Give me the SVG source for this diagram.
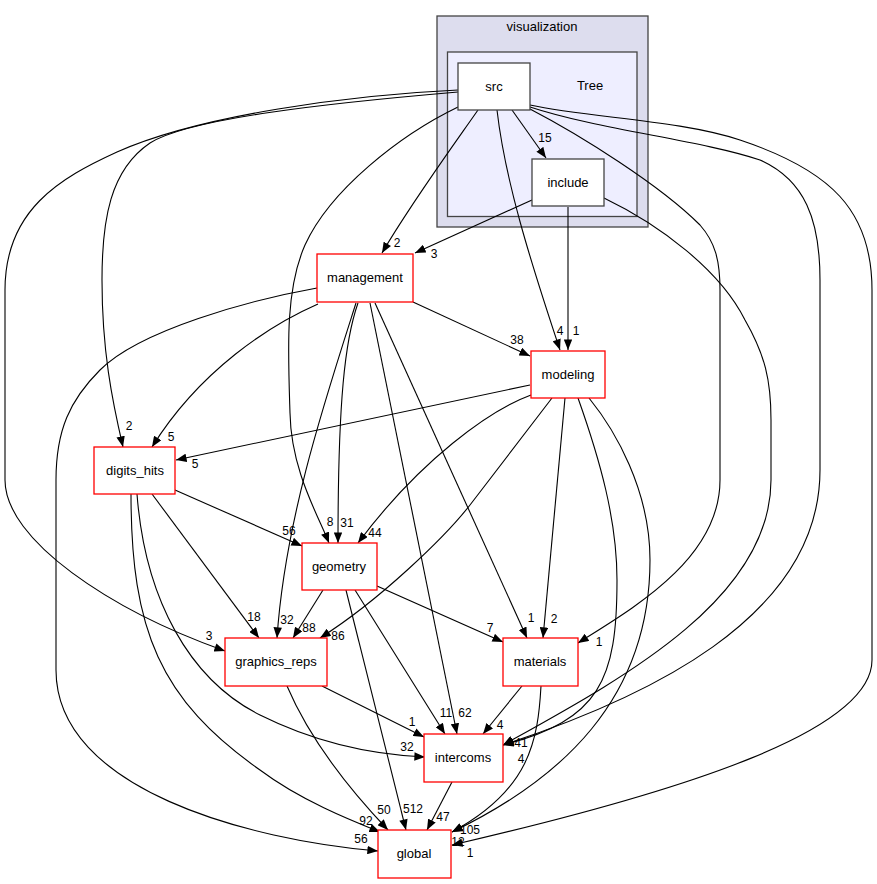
<svg xmlns="http://www.w3.org/2000/svg" width="877" height="884" viewBox="0 0 877 884">
<style>
text{font-family:"Liberation Sans",Arial,sans-serif;fill:#000}
.nl{font-size:13px;text-anchor:middle}
.el{font-size:12px;text-anchor:middle}
.node{fill:#fff;stroke:#ff0000;stroke-width:1.3}
.dir{fill:#fff;stroke:#444;stroke-width:1.3}
.e{fill:none;stroke:#000;stroke-width:1.1;marker-end:url(#a)}
</style>
<defs>
<marker id="a" viewBox="0 0 10 8" refX="10" refY="4" markerWidth="11" markerHeight="8.5" markerUnits="userSpaceOnUse" orient="auto">
<path d="M0,0 L10,4 L0,8 z" fill="#000"/>
</marker>
</defs>
<rect width="877" height="884" fill="#fff"/>
<g id="cluster_visualization">
<rect x="437" y="16" width="211" height="211" fill="#ddddee" stroke="#444" stroke-width="1.3"/>
<text class="nl" x="542" y="31">visualization</text>
</g>
<g id="cluster_Tree">
<rect x="447.5" y="52" width="189.5" height="164.5" fill="#eeeeff" stroke="#444" stroke-width="1.3"/>
<text class="nl" x="590" y="90">Tree</text>
</g>
<g id="connectors">
<path class="e" d="M512,110 L546,158"/>
<path class="e" d="M478,110 C450,150 410,205 382,253"/>
<path class="e" d="M497,110 C505,180 530,260 560,350"/>
<path class="e" d="M458,92 C330,103 190,118 150,143 C110,170 102,220 102,280 C102,350 112,400 123,447"/>
<path class="e" d="M458,107 C400,135 330,190 305,245 C285,290 288,350 290,413 C291,470 318,515 329,543"/>
<path class="e" d="M458,90 C350,95 200,115 117,152 C60,178 5,210 5,290 L5,480 C5,540 110,610 225,651"/>
<path class="e" d="M530,109 C580,135 660,185 700,225 C715,242 720,260 720,290 L720,480 C720,560 630,610 578,643"/>
<path class="e" d="M530,107 C600,130 700,140 760,160 C805,180 820,220 820,280 L820,470 C820,620 640,700 503,745"/>
<path class="e" d="M530,105 C590,118 680,120 740,140 C830,170 872,210 872,290 L872,660 C872,730 690,790 452,845"/>
<path class="e" d="M532,200 L415,253"/>
<path class="e" d="M568,207 L568,350"/>
<path class="e" d="M604,198 C660,225 720,270 745,320 C765,355 771,380 771,420 L771,480 C771,600 620,680 503,745"/>
<path class="e" d="M413,302 L530,356"/>
<path class="e" d="M318,304 C270,325 200,370 152,447"/>
<path class="e" d="M358,303 C345,340 338,400 338,543"/>
<path class="e" d="M356,303 C325,400 285,520 277,638"/>
<path class="e" d="M375,303 L527,638"/>
<path class="e" d="M370,303 L457,734"/>
<path class="e" d="M317,288 C250,300 140,330 100,370 C70,400 56,430 56,480 L56,670 C56,790 250,840 378,851"/>
<path class="e" d="M530,385 L176,460"/>
<path class="e" d="M531,395 C490,410 420,460 358,543"/>
<path class="e" d="M552,398 L470,505 C445,537 380,600 320,638"/>
<path class="e" d="M565,398 L543,638"/>
<path class="e" d="M578,398 C600,460 617,520 617,580 C617,680 600,720 503,745"/>
<path class="e" d="M589,398 C615,430 650,490 650,560 C650,700 560,780 452,832"/>
<path class="e" d="M175,490 L302,546"/>
<path class="e" d="M152,494 L259,638"/>
<path class="e" d="M137,494 C145,600 190,680 260,715 C320,745 380,755 425,757"/>
<path class="e" d="M131,494 C131,630 160,700 260,770 C300,800 350,820 380,832"/>
<path class="e" d="M323,590 L293,638"/>
<path class="e" d="M377,586 L503,642"/>
<path class="e" d="M355,590 L445,734"/>
<path class="e" d="M346,590 L406,830"/>
<path class="e" d="M322,686 L424,737"/>
<path class="e" d="M287,686 C310,740 350,790 388,830"/>
<path class="e" d="M522,686 L483,734"/>
<path class="e" d="M541,686 C538,740 530,790 452,832"/>
<path class="e" d="M452,782 L427,830"/>
<text class="el" x="545" y="142">15</text>
<text class="el" x="397" y="247">2</text>
<text class="el" x="434" y="258">3</text>
<text class="el" x="560" y="335">4</text>
<text class="el" x="576" y="335">1</text>
<text class="el" x="517" y="344">38</text>
<text class="el" x="129" y="430">2</text>
<text class="el" x="171" y="441">5</text>
<text class="el" x="195" y="468">5</text>
<text class="el" x="330" y="526">8</text>
<text class="el" x="347" y="527">31</text>
<text class="el" x="375" y="537">44</text>
<text class="el" x="289" y="535">56</text>
<text class="el" x="287" y="624">32</text>
<text class="el" x="309" y="632">88</text>
<text class="el" x="338" y="640">86</text>
<text class="el" x="254" y="621">18</text>
<text class="el" x="209" y="640">3</text>
<text class="el" x="531" y="622">1</text>
<text class="el" x="554" y="623">2</text>
<text class="el" x="490" y="632">7</text>
<text class="el" x="599" y="646">1</text>
<text class="el" x="446" y="717">11</text>
<text class="el" x="465" y="717">62</text>
<text class="el" x="412" y="726">1</text>
<text class="el" x="500" y="729">4</text>
<text class="el" x="407" y="751">32</text>
<text class="el" x="521" y="747">41</text>
<text class="el" x="521" y="763">4</text>
<text class="el" x="443" y="821">47</text>
<text class="el" x="384" y="814">50</text>
<text class="el" x="413" y="813">512</text>
<text class="el" x="366" y="825">92</text>
<text class="el" x="361" y="843">56</text>
<text class="el" x="470" y="834">105</text>
<text class="el" x="458" y="846">12</text>
<text class="el" x="470" y="857">1</text>
</g>
<g id="node_src"><rect class="dir" x="458" y="63" width="72" height="47"/><text class="nl" x="494" y="91">src</text></g>
<g id="node_include"><rect class="dir" x="532" y="159" width="72" height="47"/><text class="nl" x="568" y="187">include</text></g>
<g id="node_management"><rect class="node" x="317" y="254" width="96" height="48"/><text class="nl" x="365" y="282">management</text></g>
<g id="node_modeling"><rect class="node" x="531" y="351" width="74" height="47"/><text class="nl" x="568" y="379">modeling</text></g>
<g id="node_digits_hits"><rect class="node" x="94" y="447" width="81" height="47"/><text class="nl" x="135" y="475">digits_hits</text></g>
<g id="node_geometry"><rect class="node" x="302" y="543" width="75" height="47"/><text class="nl" x="339" y="571">geometry</text></g>
<g id="node_graphics_reps"><rect class="node" x="225" y="638" width="102" height="48"/><text class="nl" x="276" y="666">graphics_reps</text></g>
<g id="node_materials"><rect class="node" x="503" y="638" width="75" height="48"/><text class="nl" x="540" y="666">materials</text></g>
<g id="node_intercoms"><rect class="node" x="424" y="734" width="79" height="48"/><text class="nl" x="463" y="762">intercoms</text></g>
<g id="node_global"><rect class="node" x="378" y="830" width="73" height="48"/><text class="nl" x="414" y="858">global</text></g>
</svg>
